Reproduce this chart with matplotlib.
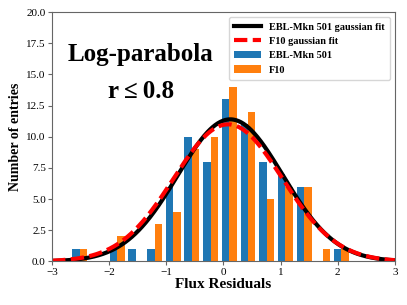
import numpy as np
import matplotlib
matplotlib.use('Agg')
import matplotlib.pyplot as plt

plt.rcParams['font.family'] = ['Liberation Serif', 'DejaVu Serif']

# histogram bins
bin_lo = -2.68
bin_hi = 2.23
n_bins = 15

# counts per bin
ebl_counts = [1, 0, 1, 1, 1, 6, 10, 8, 13, 11, 8, 7, 6, 0, 1]
f10_counts = [1, 0, 2, 0, 3, 4, 9, 10, 14, 12, 5, 6, 6, 1, 1]

# gaussian fit parameters: amplitude, mean, sigma
ebl_fit = [11.4, 0.12, 0.92]
f10_fit = [11.0, 0.08, 0.95]


def gauss(x, a, mu, sig):
    return a * np.exp(-(x - mu) ** 2 / (2 * sig ** 2))


edges = np.linspace(bin_lo, bin_hi, n_bins + 1)
centers = 0.5 * (edges[:-1] + edges[1:])

fig = plt.figure(figsize=(4.07, 3.05), dpi=100)
ax = fig.add_axes([0.128, 0.143, 0.842, 0.817])

ax.hist([centers, centers], bins=edges, weights=[ebl_counts, f10_counts],
        color=['#1f77b4', '#ff7f0e'], label=['EBL-Mkn 501', 'F10'])

xx = np.linspace(-3, 3, 400)
ax.plot(xx, gauss(xx, *ebl_fit), color='black', lw=3, label='EBL-Mkn 501 gaussian fit')
ax.plot(xx, gauss(xx, *f10_fit), color='red', lw=3, ls=(0, (3.2, 1.3)), label='F10 gaussian fit')

ax.set_xlim(-3, 3)
ax.set_ylim(0, 20)
ax.set_yticks(np.arange(0, 20.1, 2.5))
ax.set_yticklabels(['%.1f' % v for v in np.arange(0, 20.1, 2.5)])
ax.tick_params(labelsize=8, length=3, width=0.8, color='0.4', pad=1.5)
for s in ax.spines.values():
    s.set_color('0.4')

ax.set_xlabel('Flux Residuals', fontsize=11, fontweight='bold', labelpad=1)
ax.set_ylabel('Number of entries', fontsize=10, fontweight='bold', labelpad=3)

ax.text(-1.45, 16.6, 'Log-parabola', fontsize=18, fontweight='bold', ha='center', va='center')
ax.text(-1.45, 13.6, 'r\u2009\u2264\u20090.8', fontsize=18, fontweight='bold', ha='center', va='center')

h, l = ax.get_legend_handles_labels()
order = [2, 3, 0, 1]
ax.legend([h[i] for i in order], [l[i] for i in order], loc='upper right',
          prop={'weight': 'bold', 'size': 7.4}, handlelength=2.6,
          borderpad=0.5, labelspacing=0.5, framealpha=0.8)

fig.savefig('out.png', dpi=100)
